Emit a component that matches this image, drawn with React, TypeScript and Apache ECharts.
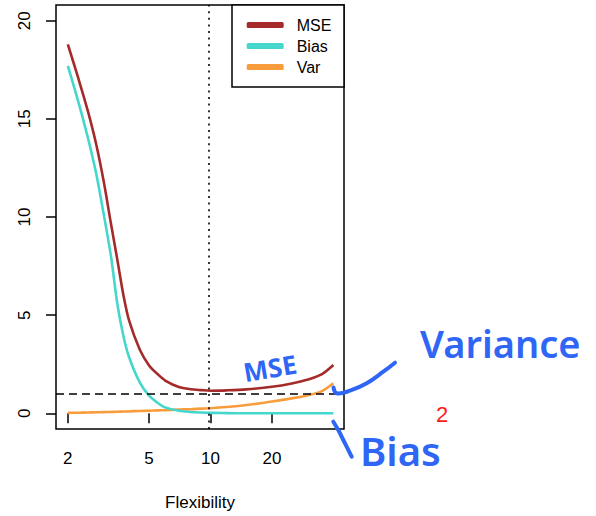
import React, { useEffect, useRef } from "react";
import * as echarts from "echarts";

// Flexibility (x, log scale) and the three curves
const flexibility = [2, 2.25, 2.5, 2.75, 3, 3.25, 3.5, 3.75, 4, 4.5, 5, 5.5, 6, 7, 8, 9, 10, 12, 15, 20, 25, 30, 35, 40];
const mseValues = [18.8, 17.07, 15.44, 13.73, 11.79, 9.68, 7.79, 5.98, 4.69, 3.25, 2.44, 2.0, 1.67, 1.34, 1.225, 1.18, 1.15, 1.17, 1.22, 1.35, 1.52, 1.72, 1.98, 2.46];
const biasValues = [17.7, 15.88, 14.09, 12.24, 10.12, 8.03, 5.54, 3.9, 2.83, 1.58, 0.9, 0.54, 0.3, 0.13, 0.07, 0.04, 0.02, 0.01, 0, 0, 0, 0, 0, 0];
const varValues = [0.02, 0.03, 0.04, 0.05, 0.06, 0.07, 0.08, 0.09, 0.1, 0.12, 0.13, 0.15, 0.16, 0.19, 0.21, 0.24, 0.26, 0.32, 0.42, 0.6, 0.76, 0.92, 1.12, 1.53];
const seriesNames = ["MSE", "Bias", "Var"];
const xTickLabels = [2, 5, 10, 20];
const yTickLabels = [0, 5, 10, 15, 20];
const irreducibleError = 1;
const optimalFlexibility = 9.7;

const FONT = "Liberation Sans, Arial, Helvetica, sans-serif";
const HAND = "Noto Sans, DejaVu Sans, sans-serif";
const BLUE = "#2f66f5";

export default function App() {
  const ref = useRef<HTMLDivElement>(null);

  useEffect(() => {
    if (!ref.current) return;
    const chart = echarts.init(ref.current, null, { renderer: "svg" });
    const toPts = (vals: number[]) => flexibility.map((f, i) => [Math.log10(f), vals[i]]);
    const colors = ["#a52a2a", "#45d6cc", "#f99c3c"];
    const valueSets = [mseValues, biasValues, varValues];

    const option: any = {
      animation: false,
      grid: {
        left: 56,
        top: 5,
        right: 252,
        bottom: 82,
        show: true,
        borderColor: "#000",
        borderWidth: 1.5,
        backgroundColor: "transparent",
      },
      xAxis: {
        type: "value",
        min: 0.243,
        max: 1.654,
        axisLine: { show: false },
        splitLine: { show: false },
        axisTick: {
          show: true,
          inside: false,
          length: 10,
          lineStyle: { color: "#000", width: 1.5 },
          customValues: xTickLabels.map((v) => Math.log10(v)),
        },
        axisLabel: {
          customValues: xTickLabels.map((v) => Math.log10(v)),
          formatter: (v: number) => String(Math.round(Math.pow(10, v))),
          margin: 21,
          fontSize: 17,
          color: "#000",
          fontFamily: FONT,
        },
        name: "Flexibility",
        nameLocation: "middle",
        nameGap: 65,
        nameTextStyle: { fontSize: 17, color: "#000", fontFamily: FONT },
      },
      yAxis: {
        type: "value",
        min: -0.8,
        max: 20.8,
        axisLine: { show: false },
        splitLine: { show: false },
        axisTick: {
          show: true,
          inside: false,
          length: 10,
          lineStyle: { color: "#000", width: 1.5 },
          customValues: yTickLabels,
        },
        axisLabel: {
          customValues: yTickLabels,
          rotate: 90,
          margin: 23,
          fontSize: 17,
          color: "#000",
          fontFamily: FONT,
        },
      },
      legend: {
        orient: "vertical",
        left: 246.7,
        top: 14.5,
        itemWidth: 37,
        itemHeight: 6,
        itemGap: 0,
        icon: "roundRect",
        padding: 0,
        textStyle: { fontSize: 16, lineHeight: 21, color: "#000", fontFamily: FONT, padding: [0, 0, 0, 8] },
        data: seriesNames,
      },
      series: seriesNames.map((name, i) => ({
        name,
        type: "line",
        data: toPts(valueSets[i]),
        showSymbol: false,
        smooth: 0.3,
        color: colors[i],
        lineStyle: { width: 2.6, color: colors[i] },
        z: 3 - i,
        markLine:
          i === 0
            ? {
                silent: true,
                symbol: ["none", "none"],
                label: { show: false },
                lineStyle: { color: "#000", width: 1.5 },
                data: [
                  { xAxis: Math.log10(optimalFlexibility), lineStyle: { type: [2, 4.6], color: "#000", width: 1.6 } },
                  { yAxis: irreducibleError, lineStyle: { type: [8, 5], color: "#000", width: 1.5 } },
                ],
              }
            : undefined,
      })),
      graphic: [
        {
          type: "rect",
          shape: { x: 232, y: 5, width: 112, height: 82 },
          style: { fill: "#fff", stroke: "#000", lineWidth: 1.5 },
          z: 1,
        },
        {
          type: "text",
          x: 270,
          y: 368,
          rotation: 0.17,
          style: {
            text: "MSE",
            fill: BLUE,
            fontSize: 26,
            fontWeight: "bold",
            fontFamily: HAND,
            align: "center",
            verticalAlign: "middle",
          },
          z: 10,
        },
        {
          type: "text",
          x: 420,
          y: 343,
          style: {
            text: "Variance",
            fill: BLUE,
            fontSize: 38,
            fontWeight: 600,
            fontFamily: HAND,
            align: "left",
            verticalAlign: "middle",
          },
          z: 10,
        },
        {
          type: "text",
          x: 360,
          y: 450,
          style: {
            text: "Bias",
            fill: BLUE,
            fontSize: 40,
            fontWeight: 600,
            fontFamily: HAND,
            align: "left",
            verticalAlign: "middle",
          },
          z: 10,
        },
        {
          type: "text",
          x: 442,
          y: 414,
          style: {
            text: "2",
            fill: "#ff1a1a",
            fontSize: 22,
            fontFamily: FONT,
            align: "center",
            verticalAlign: "middle",
          },
          z: 10,
        },
        {
          type: "polyline",
          shape: {
            points: [
              [333.5, 387.5],
              [336.7, 393.3],
              [350, 390.7],
              [366.7, 383.3],
              [383.3, 371.7],
              [395, 362.7],
            ],
            smooth: 0.4,
          },
          style: { stroke: BLUE, lineWidth: 4, fill: "none", lineCap: "round", lineJoin: "round" },
          z: 10,
        },
        {
          type: "polyline",
          shape: {
            points: [
              [333.3, 421.7],
              [338.3, 430],
              [343.3, 440],
              [350, 453.3],
              [351.7, 456.7],
            ],
            smooth: 0.3,
          },
          style: { stroke: BLUE, lineWidth: 4, fill: "none", lineCap: "round", lineJoin: "round" },
          z: 10,
        },
      ],
    };

    chart.setOption(option);
    return () => chart.dispose();
  }, []);

  return <div ref={ref} style={{ position: "absolute", left: 0, top: 0, width: 596, height: 516 }} />;
}
